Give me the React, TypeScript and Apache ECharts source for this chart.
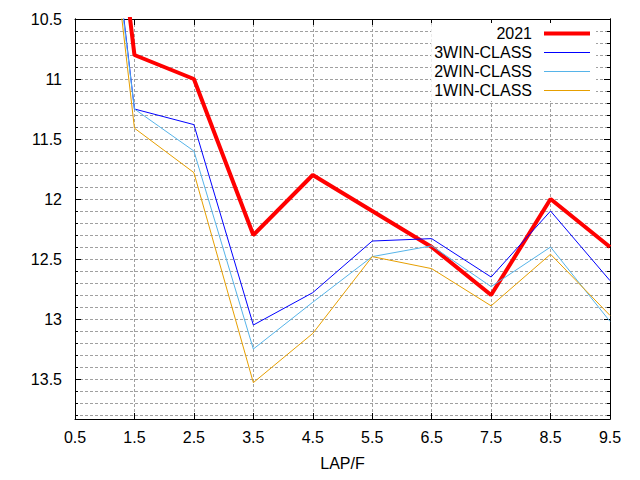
import React, { useEffect, useRef } from "react";
import * as echarts from "echarts";

// Lap positions (furlongs)
const lapPositions = [0.5, 1.5, 2.5, 3.5, 4.5, 5.5, 6.5, 7.5, 8.5, 9.5];

const seriesNames = ["2021", "3WIN-CLASS", "2WIN-CLASS", "1WIN-CLASS"];

// Lap times (seconds)
const times2021 = [6.7, 10.8, 11.0, 12.3, 11.8, 12.1, 12.4, 12.8, 12.0, 12.4];
const times3Win = [7.0, 11.25, 11.38, 13.05, 12.78, 12.35, 12.33, 12.65, 12.1, 12.68];
const times2Win = [7.2, 11.25, 11.6, 13.25, 12.86, 12.48, 12.39, 12.73, 12.4, 13.02];
const times1Win = [7.1, 11.41, 11.78, 13.53, 13.12, 12.48, 12.58, 12.89, 12.46, 12.97];

const seriesValues = [times2021, times3Win, times2Win, times1Win];
const seriesColors = ["#ff0000", "#0000ff", "#56b4e9", "#e69f00"];
const seriesWidths = [4, 1, 1, 1];

const Y_MIN = 10.5;
const Y_MAX = 13.833;
const X_MIN = 0.5;
const X_MAX = 9.5;

export default function App() {
  const ref = useRef<HTMLDivElement>(null);

  useEffect(() => {
    if (!ref.current) return;
    const chart = echarts.init(ref.current, null, { renderer: "svg" });
    const font = "'Liberation Sans', Arial, sans-serif";
    const gridColor = "#a0a0a0";
    const black = "#000";

    const yCommon = {
      type: "value",
      min: Y_MIN,
      max: Y_MAX,
      inverse: true,
      axisLine: { show: true, onZero: false, lineStyle: { color: black, width: 1 } },
      axisLabel: { show: false },
      splitLine: { show: false },
    };
    const xCommon = {
      type: "value",
      min: X_MIN,
      max: X_MAX,
      interval: 1,
      axisLine: { show: true, onZero: false, lineStyle: { color: black, width: 1 } },
      splitLine: { show: false },
    };

    chart.setOption({
      animation: false,
      backgroundColor: "#ffffff",
      textStyle: { fontFamily: font },
      grid: { left: 75, right: 30, top: 19, bottom: 61, containLabel: false },
      legend: {
        data: seriesNames.map((name, i) => ({
          name,
          icon: `path://M0,0h46v${seriesWidths[i]}h-46z`,
        })),
        orient: "vertical",
        align: "right",
        right: 44,
        top: 23,
        itemWidth: 46,
        itemHeight: 10,
        itemGap: 0,
        padding: [1, 6, 1, 3],
        backgroundColor: "#ffffff",
        selectedMode: false,
        textStyle: {
          fontSize: 16,
          fontFamily: font,
          color: black,
          lineHeight: 19,
          padding: [0, 7, 0, 0],
        },
      },
      xAxis: [
        {
          ...xCommon,
          position: "bottom",
          name: "LAP/F",
          nameLocation: "middle",
          nameGap: 36,
          nameTextStyle: { fontSize: 16, color: black, fontFamily: font },
          axisTick: { show: true, inside: true, length: 6, lineStyle: { color: black } },
          axisLabel: { show: true, fontSize: 16, color: black, fontFamily: font, margin: 10 },
          splitLine: { show: true, lineStyle: { color: gridColor, type: [3, 2], width: 1 } },
        },
        {
          ...xCommon,
          position: "top",
          axisTick: { show: true, inside: true, length: 6, lineStyle: { color: black } },
          axisLabel: { show: false },
        },
      ],
      yAxis: [
        {
          ...yCommon,
          position: "left",
          interval: 0.5,
          axisTick: { show: true, inside: true, length: 6, lineStyle: { color: black } },
          axisLabel: {
            show: true,
            fontSize: 16,
            color: black,
            fontFamily: font,
            margin: 13,
            showMaxLabel: false,
            formatter: (v: number) =>
              Math.abs(v * 2 - Math.round(v * 2)) < 1e-6 ? String(+v.toFixed(1)) : "",
          },
        },
        {
          ...yCommon,
          position: "left",
          interval: 0.1,
          axisTick: { show: true, inside: true, length: 3, lineStyle: { color: black } },
          splitLine: { show: true, lineStyle: { color: gridColor, type: [3, 2], width: 1 } },
        },
        {
          ...yCommon,
          position: "right",
          interval: 0.5,
          axisTick: { show: true, inside: true, length: 6, lineStyle: { color: black } },
        },
        {
          ...yCommon,
          position: "right",
          interval: 0.1,
          axisTick: { show: true, inside: true, length: 3, lineStyle: { color: black } },
        },
      ],
      series: seriesNames.map((name, i) => ({
        name,
        type: "line",
        xAxisIndex: 0,
        yAxisIndex: 0,
        data: lapPositions.map((x, j) => [x, seriesValues[i][j]]),
        symbol: "none",
        clip: true,
        silent: true,
        color: seriesColors[i],
        itemStyle: { color: seriesColors[i] },
        lineStyle: { color: seriesColors[i], width: seriesWidths[i] },
        emphasis: { disabled: true },
      })),
    });

    return () => chart.dispose();
  }, []);

  return (
    <div
      ref={ref}
      style={{ position: "fixed", left: 0, top: 0, width: 640, height: 480 }}
    />
  );
}
